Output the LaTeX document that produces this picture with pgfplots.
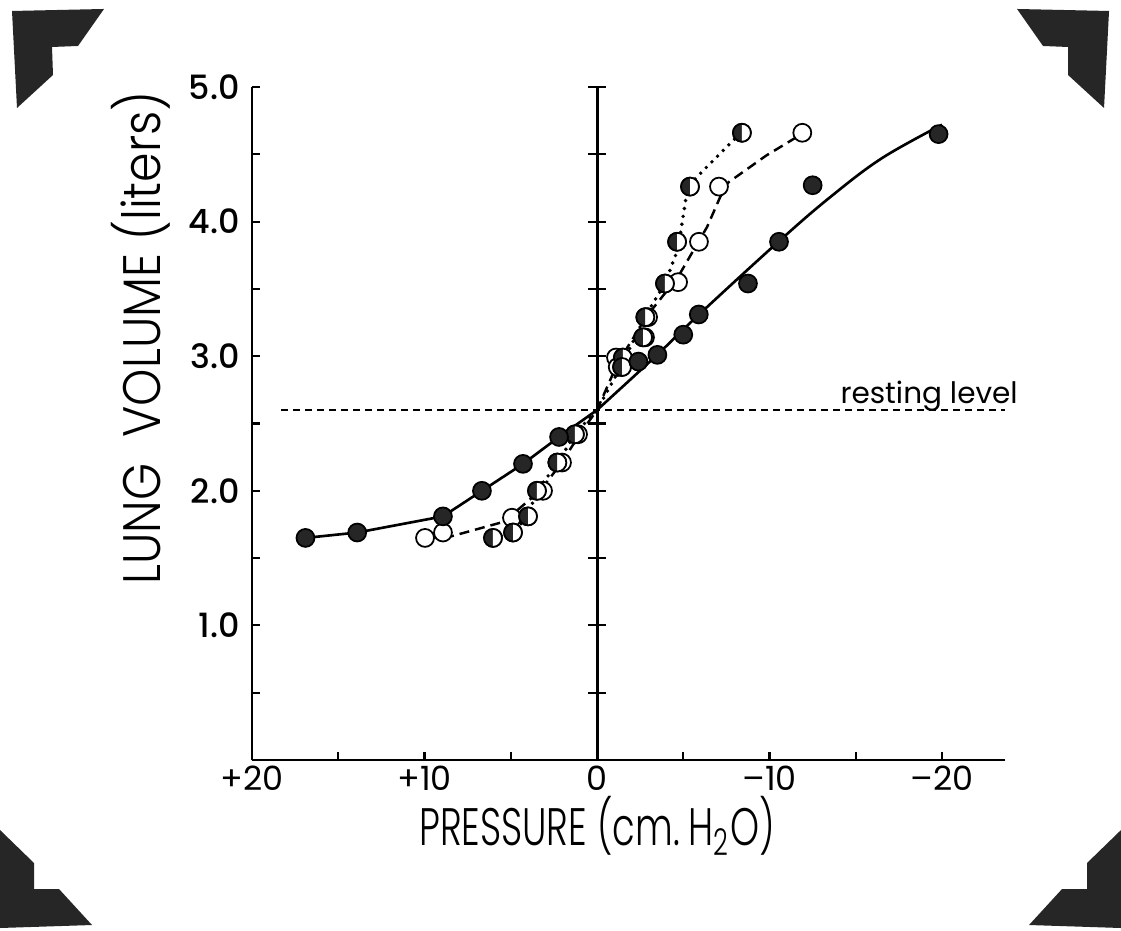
\documentclass[border=0pt]{standalone}
\usepackage{fontspec}
\setmainfont{Poppins}
\newfontfamily\ylabfont[FakeStretch=0.9]{Poppins Light}
\newfontfamily\xlabfont[FakeStretch=0.7]{Poppins Light}
\newfontfamily\ytickfont{Poppins Medium}
\usepackage{pgfplots}
\usepackage{pgfplotstable}
\pgfplotsset{compat=1.18}
\usetikzlibrary{plotmarks}

% filled circles
\pgfplotstableread{
x y
16.9 1.65
13.9 1.69
8.93 1.81
6.67 2.00
4.29 2.20
2.20 2.40
-2.4 2.96
-3.5 3.01
-5.0 3.16
-5.9 3.31
-8.75 3.54
-10.55 3.85
-12.5 4.27
-19.8 4.65
}\filled

% open circles
\pgfplotstableread{
x y
9.97 1.65
8.93 1.69
4.93 1.80
3.13 2.00
2.03 2.21
1.10 2.42
-1.10 2.99
-1.20 2.92
-2.78 3.14
-2.96 3.29
-4.70 3.55
-5.91 3.85
-7.07 4.26
-11.9 4.66
}\opencirc

% half filled circles
\pgfplotstableread{
x y
6.03 1.65
4.87 1.69
4.00 1.81
3.48 2.00
2.30 2.21
1.28 2.42
-1.50 2.99
-1.45 2.92
-2.67 3.14
-2.80 3.29
-3.94 3.54
-4.64 3.85
-5.39 4.26
-8.40 4.66
}\halfcirc

\begin{document}
\begin{tikzpicture}
\useasboundingbox (0,0) rectangle (112.1mm,93mm);
\fill[white] (0,0) rectangle (112.1mm,93mm);

% photo corners and axis titles, in pixel units
\begin{scope}[shift={(0mm,93mm)}, x=0.1mm, y=-0.1mm]
  \fill[black!85] (12,11) -- (104,9) -- (78,46) -- (52,47) -- (53,75) -- (17,108) -- cycle;
  \fill[black!85] (1109,11) -- (1017,9) -- (1043,46) -- (1068,47) -- (1068,75) -- (1104,108) -- cycle;
  \fill[black!85] (0,830) -- (34,863) -- (34,889) -- (59,889) -- (92,925) -- (0,928) -- cycle;
  \fill[black!85] (1121,830) -- (1087,863) -- (1087,889) -- (1062,889) -- (1029,925) -- (1121,928) -- cycle;
  \node[rotate=90, font=\ylabfont\fontsize{15}{18}\selectfont, inner sep=0pt] at (141,338) {LUNG\ \ VOLUME (liters)};
  \node[font=\xlabfont\fontsize{15}{18}\selectfont, inner sep=0pt] at (597,826) {PRESSURE (cm.\,H\textsubscript{2}O)};
\end{scope}

\begin{axis}[
  at={(25.2mm,17.0mm)}, anchor=south west,
  scale only axis, width=75.3mm, height=67.3mm,
  x dir=reverse,
  xmin=-23.65, xmax=20, ymin=0, ymax=5,
  axis x line*=bottom, axis y line*=left,
  axis line style={line width=0.85pt, -},
  tick align=inside,
  major tick length=0.85mm, minor tick length=0.85mm,
  tick style={line width=0.6pt, black},
  xtick={20,10,0,-10,-20},
  xticklabels={+20,+10,0,–10,–20},
  minor xtick={15,5,-5,-15},
  ytick={1,2,3,4,5},
  yticklabels={1.0,2.0,3.0,4.0,5.0},
  minor ytick={0.5,1.5,2.5,3.5,4.5},
  xticklabel style={font=\fontsize{9.5}{11}\selectfont, yshift=0.6mm},
  yticklabel style={font=\ytickfont\fontsize{9.5}{11}\selectfont},
  /pgf/number format/assume math mode=true,
  clip=false,
]
  % central pressure-zero line with crossing ticks
  \draw[line width=0.85pt] (axis cs:0,0) -- (axis cs:0,5);
  \pgfplotsinvokeforeach{0.5,1,1.5,2,2.5,3,3.5,4,4.5,5}{
    \draw[line width=0.6pt] (axis cs:0,#1) +(-0.9mm,0pt) -- +(0.9mm,0pt);
  }
  % resting level
  \draw[line width=0.55pt, dash pattern=on 0.7mm off 0.5mm]
    (axis cs:18.3,2.6) -- (axis cs:-23.65,2.6);
  \node[anchor=base, inner sep=0pt, font=\fontsize{8.4}{10}\selectfont]
    at (axis cs:-19.25,2.65) {resting level};

  % fitted curves
  \addplot[line width=0.75pt, black, no marks] coordinates {
    (16.9,1.65)(13.9,1.69)(8.93,1.81)(6.67,2.0)(4.29,2.2)(2.2,2.4)(0,2.6)
  };
  \addplot[line width=0.75pt, black, no marks, smooth, tension=0.6] coordinates {
    (0,2.6)(-3.4,3.0)(-6.0,3.32)(-10.6,3.86)(-13.5,4.18)(-16.5,4.47)(-20.0,4.72)
  };
  \addplot[line width=0.7pt, black, no marks, dash pattern=on 1mm off 0.6mm] coordinates {
    (9.8,1.65)(8.5,1.66)(5.4,1.77)(3.3,2.0)(2.1,2.2)(1.0,2.42)(0,2.6)
    (-1.2,2.95)(-2.9,3.3)(-4.7,3.59)(-6.38,3.96)(-7.13,4.18)(-7.6,4.29)(-9.8,4.49)(-11.6,4.63)
  };
  \addplot[line width=1.1pt, black, no marks, line cap=round, dash pattern=on 0pt off 0.8mm] coordinates {
    (6.0,1.65)(4.9,1.69)(4.0,1.81)(3.5,2.0)(2.3,2.2)(1.3,2.42)(0,2.6)
    (-1.5,2.95)(-2.8,3.3)(-3.94,3.54)(-4.7,3.8)(-5.2,4.21)(-5.7,4.32)(-8.1,4.63)
  };

  % data points
  \addplot[only marks, mark=*, mark size=2.55pt,
    mark options={fill=white, draw=black, line width=0.5pt}] table {\opencirc};
  \addplot[only marks, mark=*, mark size=2.55pt,
    mark options={fill=white, draw=black, line width=0.5pt}] table {\halfcirc};
  \addplot[only marks, mark=halfcircle*, mark size=2.55pt,
    mark options={fill=black!85, draw=black, line width=0.5pt, rotate=90}] table {\halfcirc};
  \addplot[only marks, mark=*, mark size=2.55pt,
    mark options={fill=black!85, draw=black, line width=0.5pt}] table {\filled};
\end{axis}
\end{tikzpicture}
\end{document}
